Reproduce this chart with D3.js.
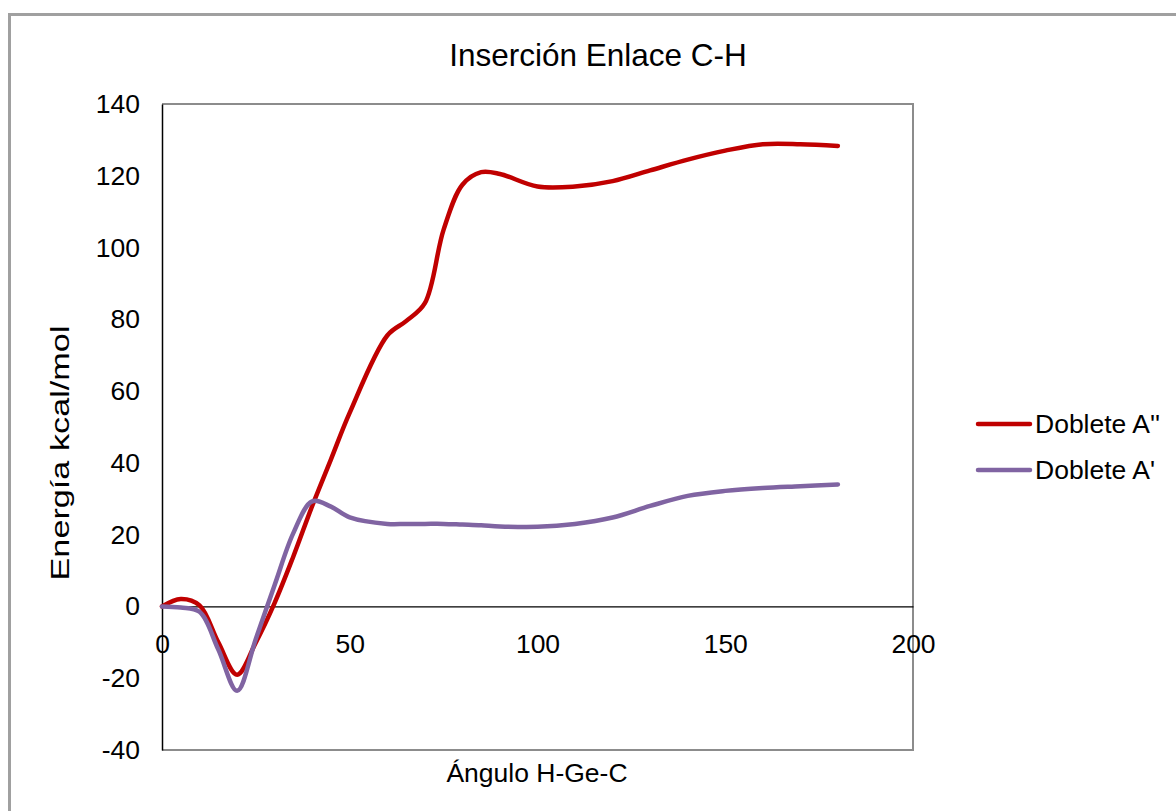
<!DOCTYPE html>
<html>
<head>
<meta charset="utf-8">
<script src="https://cdn.jsdelivr.net/npm/d3@7"></script>
<style>
  html, body { margin: 0; padding: 0; background: #fff; }
  text { font-family: "Liberation Sans", Arial, sans-serif; fill: #000; }
</style>
</head>
<body>
<svg id="chart" width="1176" height="811"></svg>
<script>
const chartTitle = "Inserción Enlace C-H";
const xTitle = "Ángulo H-Ge-C";
const yTitle = "Energía kcal/mol";
const seriesNames = ["Doblete A''", "Doblete A'"];
const xTicks = [0, 50, 100, 150, 200];
const yTicks = [-40, -20, 0, 20, 40, 60, 80, 100, 120, 140];

const angles = [0, 5, 10, 15, 20, 25, 30, 35, 40, 45, 50, 60, 65, 70, 75, 80, 85, 90, 100, 110, 120, 130, 140, 150, 160, 170, 180];
const dobleteA2 = [0, 2.1, 0.3, -10, -19, -10, 1, 14, 28, 41, 54, 75.5, 79.5, 84.5, 105, 117.5, 121, 120.5, 117, 117, 118.5, 121.5, 124.5, 127, 128.8, 128.8, 128.3];
const dobleteA1 = [0, -0.3, -1.5, -12, -23.5, -9, 6, 20.5, 29.3, 27.8, 24.8, 23, 23, 23, 23, 22.8, 22.6, 22.3, 22.2, 23, 24.8, 28, 30.8, 32.2, 33, 33.5, 34];
const colors = ["#c00000", "#8064a2"];

const svg = d3.select("#chart");
const W = 1176, H = 811;
const plot = { left: 162, right: 913, top: 104, bottom: 750 };

// outer frame
svg.append("path")
  .attr("d", `M9.5,${H} L9.5,14.5 L${W},14.5`)
  .attr("fill", "none").attr("stroke", "#a0a0a0").attr("stroke-width", 3);

const x = d3.scaleLinear().domain([0, 200]).range([plot.left, plot.right]);
const y = d3.scaleLinear().domain([-40, 140]).range([plot.bottom, plot.top]);

// plot border (top/right/bottom gray)
svg.append("path")
  .attr("d", `M${plot.left},${plot.top} L${plot.right},${plot.top} L${plot.right},${plot.bottom} L${plot.left},${plot.bottom}`)
  .attr("fill", "none").attr("stroke", "#8c8c8c").attr("stroke-width", 2);

const fmt = d => String(d);

// y axis
const yAxis = d3.axisLeft(y).tickValues(yTicks).tickFormat(fmt).tickSize(0).tickPadding(22);
const gy = svg.append("g").attr("transform", `translate(${plot.left},0)`).call(yAxis);
gy.select(".domain").attr("stroke", "#000").attr("stroke-width", 1.5);
gy.selectAll("text").style("font-size", "26.5px").attr("font-family", "Liberation Sans, Arial, sans-serif");

// x axis at y = 0
const xAxis = d3.axisBottom(x).tickValues(xTicks).tickFormat(fmt).tickSize(0).tickPadding(28);
const gx = svg.append("g").attr("transform", `translate(0,${y(0)})`).call(xAxis);
gx.select(".domain").attr("stroke", "#000").attr("stroke-width", 1.2);
gx.selectAll("text").style("font-size", "26.5px").attr("font-family", "Liberation Sans, Arial, sans-serif");

// lines
const line = d3.line().x(d => x(d[0])).y(d => y(d[1])).curve(d3.curveCatmullRom.alpha(0.5));
[dobleteA2, dobleteA1].forEach((vals, i) => {
  svg.append("path")
    .datum(angles.map((a, j) => [a, vals[j]]))
    .attr("d", line)
    .attr("fill", "none")
    .attr("stroke", colors[i])
    .attr("stroke-width", 4.5)
    .attr("stroke-linecap", "round")
    .attr("stroke-linejoin", "round");
});

// titles
svg.append("text").attr("x", 598).attr("y", 55).attr("text-anchor", "middle")
  .attr("dominant-baseline", "central").style("font-size", "31.5px").text(chartTitle);
svg.append("text").attr("x", 537).attr("y", 773).attr("text-anchor", "middle")
  .attr("dominant-baseline", "central").style("font-size", "26.5px").text(xTitle);
svg.append("text").attr("transform", "translate(60,453) rotate(-90)").attr("text-anchor", "middle")
  .attr("dominant-baseline", "central").style("font-size", "26.5px")
  .attr("textLength", 255).attr("lengthAdjust", "spacingAndGlyphs").text(yTitle);

// legend
const legY = [424, 470];
seriesNames.forEach((name, i) => {
  svg.append("line").attr("x1", 978).attr("x2", 1030).attr("y1", legY[i]).attr("y2", legY[i])
    .attr("stroke", colors[i]).attr("stroke-width", 4.5).attr("stroke-linecap", "round");
  svg.append("text").attr("x", 1035).attr("y", legY[i]).attr("dominant-baseline", "central")
    .style("font-size", "26.5px").text(name);
});
</script>
</body>
</html>
